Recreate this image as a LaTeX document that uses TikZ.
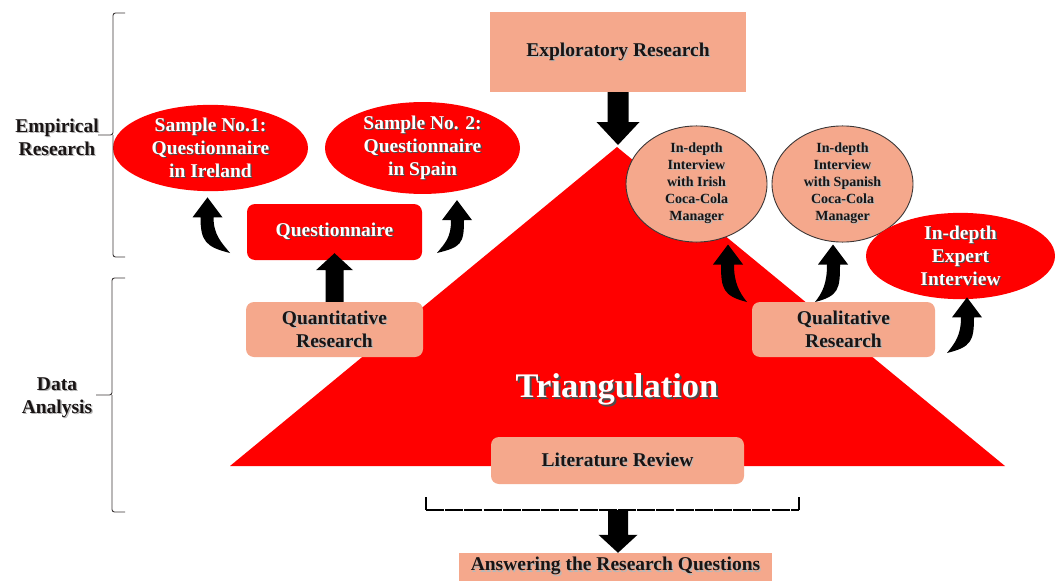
\documentclass[tikz,border=0pt]{standalone}
\usepackage{fontspec}
\setmainfont{Liberation Serif}
\usetikzlibrary{calc,shapes.geometric}

\definecolor{tri}{RGB}{255,0,0}
\definecolor{salmon}{RGB}{245,168,140}
\definecolor{ink}{RGB}{25,20,20}
\colorlet{shadowc}{black!30}

% text with a small offset shadow behind it
\newcommand\sh[1]{\makebox[0pt][l]{\kern1.3pt\raisebox{-1.3pt}{\textcolor{shadowc}{#1}}}#1}

% vertical block arrow: from, to, shaft half width, head half width, head length
\newcommand\blockarrow[5]{%
  \fill[black] let \p1=(#1), \p2=(#2), \n1={ifthenelse(\y2>\y1,1,-1)} in
    ({\x1-#3},\y1) -- ({\x1-#3},{\y2-\n1*#5}) -- ({\x1-#4},{\y2-\n1*#5}) -- (\x1,\y2)
    -- ({\x1+#4},{\y2-\n1*#5}) -- ({\x1+#3},{\y2-\n1*#5}) -- ({\x1+#3},\y1) -- cycle;}

% curved block arrow pointing up: tail, tip, side (1 bulges left, -1 bulges right)
\newcommand\curvarrow[3]{%
  \fill[black] let \p1=(#1), \p2=(#2) in
    (\p1) .. controls ({\x1-24pt*(#3)},{\y1+6pt}) and ({\x2-7pt*(#3)},{\y2-44pt})
          .. ({\x2-7pt*(#3)},{\y2-20pt})
    -- ({\x2-15pt*(#3)},{\y2-20pt}) -- (\p2) -- ({\x2+15pt*(#3)},{\y2-20pt})
    -- ({\x2+6pt*(#3)},{\y2-20pt})
    .. controls ({\x2+6pt*(#3)},{\y2-38pt}) and ({\x1-8pt*(#3)},{\y1+10pt}) .. (\p1) -- cycle;}

\tikzset{
  txt/.style={font=\bfseries\fontsize{19.5}{23}\selectfont, align=center, inner sep=0pt},
  darktxt/.style={txt, text=ink, execute at begin node={\colorlet{shadowc}{black!28}}},
  whitetxt/.style={txt, text=white, execute at begin node={\colorlet{shadowc}{black!70}}},
  plainbox/.style={darktxt, fill=salmon},
  softbox/.style={darktxt, fill=salmon, rounded corners=8pt},
  redbox/.style={whitetxt, fill=tri, rounded corners=8pt},
  redell/.style={whitetxt, ellipse, fill=tri},
  paleell/.style={darktxt, ellipse, fill=salmon, draw=ink!85, line width=0.9pt,
                  font=\bfseries\fontsize{14}{17}\selectfont},
  brace/.style={draw=ink!85, line width=0.9pt, rounded corners=2.5pt},
}

\begin{document}
\begin{tikzpicture}[x=1pt,y=-1pt]
\useasboundingbox[fill=white] (0,0) rectangle (1055,586);

% central triangle
\coordinate (apex) at (617,147);
\fill[tri] (230,466) -- (apex) -- (1005,466) -- cycle;

% boxes
\node[plainbox, minimum width=256, minimum height=80] (expl) at (618,52) {\sh{Exploratory Research}};
\node[redbox, minimum width=175, minimum height=56] (quest) at (334.5,232) {\sh{Questionnaire}};
\node[softbox, minimum width=177, minimum height=55] (quant) at (334.5,329.5) {\sh{Quantitative}\\\sh{Research}};
\node[softbox, minimum width=183, minimum height=55] (qual) at (843.5,329.5) {\sh{Qualitative}\\\sh{Research}};
\node[softbox, minimum width=253, minimum height=47] (lit) at (617.5,460.5) {\sh{Literature Review}};
\node[plainbox, minimum width=313, minimum height=28] (ans) at (615.5,567) {\sh{Answering the Research Questions}};

% ellipses
\node[redell, minimum width=195, minimum height=80] (s1) at (210.5,148) {\sh{Sample No.1:}\\\sh{Questionnaire}\\\sh{in Ireland}};
\node[redell, minimum width=195, minimum height=80] (s2) at (422.5,148) {\sh{Sample No. 2:}\\\sh{Questionnaire}\\\sh{in Spain}};
\node[paleell, minimum width=141, minimum height=108] (i1) at (696.5,184) {\sh{In-depth}\\\sh{Interview}\\\sh{with Irish}\\\sh{Coca-Cola}\\\sh{Manager}};
\node[paleell, minimum width=141, minimum height=108] (i2) at (842.5,184) {\sh{In-depth}\\\sh{Interview}\\\sh{with Spanish}\\\sh{Coca-Cola}\\\sh{Manager}};
\node[redell, minimum width=189, minimum height=78] (ex) at (960.5,256) {\sh{In-depth}\\\sh{Expert}\\\sh{Interview}};

% title inside the triangle
\node[whitetxt, font=\bfseries\fontsize{34.5}{40}\selectfont] (trl) at (617,390)
  {\makebox[0pt][l]{\kern2pt\raisebox{-2pt}{\textcolor{shadowc}{Triangulation}}}Triangulation};

% side labels and braces
\node[darktxt] (emp) at (57,138) {\sh{Empirical}\\\sh{Research}};
\node[darktxt] (dat) at (57,398) {\sh{Data}\\\sh{Analysis}};
\draw[brace] (125,13) -- (113,13) -- (113,135) -- (98,135);
\draw[brace] (113,135) -- (113,257) -- (125,257);
\draw[brace] (125,278) -- (112,278) -- (112,395) -- (96,395);
\draw[brace] (112,395) -- (112,512) -- (125,512);

% straight block arrows
\blockarrow{expl.south}{[yshift=2pt]apex}{10.5pt}{21.5pt}{23pt}
\blockarrow{quant.north}{[yshift=7pt]quest.south}{9pt}{18.5pt}{17pt}

% curved arrows towards the samples and interviews
\coordinate (tailA) at (230,253);
\coordinate (tailB) at (437,253);
\coordinate (tailC) at (747,302);
\coordinate (tailD) at (815,302);
\coordinate (tailE) at (947,353);
\curvarrow{tailA}{[xshift=-3pt,yshift=-6pt]s1.south}{1}
\curvarrow{tailB}{[xshift=34.5pt,yshift=-6pt]s2.south}{-1}
\curvarrow{tailC}{[xshift=31.5pt,yshift=-2pt]i1.south}{1}
\curvarrow{tailD}{[xshift=-9.5pt,yshift=-2pt]i2.south}{-1}
\curvarrow{tailE}{[xshift=6.5pt,yshift=2pt]ex.south}{-1}

% bracket collecting the three strands
\coordinate (brL) at (426,510);
\coordinate (brR) at (799,510);
\coordinate (brM) at (618,510);
\draw[line width=1.8pt] (426,497) -- (brL);
\draw[line width=1.8pt] (799,497) -- (brR);
\draw[line width=1.6pt, dash pattern=on 18pt off 1.2pt] (brL) -- (brR);
\blockarrow{brM}{ans.north}{10pt}{19.5pt}{18pt}
\end{tikzpicture}
\end{document}
